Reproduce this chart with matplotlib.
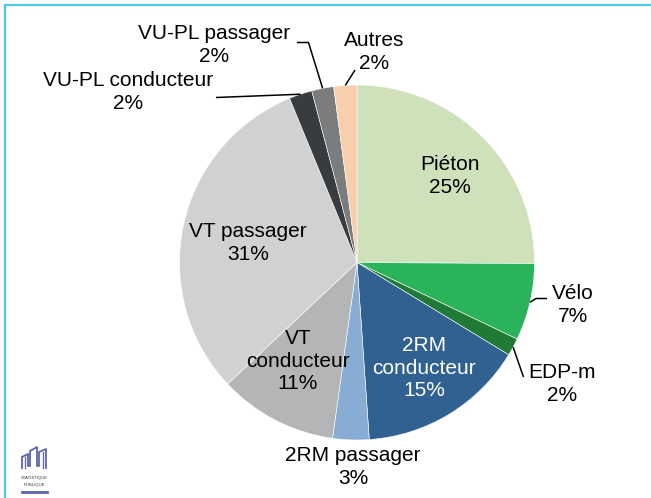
import numpy as np
import matplotlib.pyplot as plt
from matplotlib.lines import Line2D

plt.rcParams['font.family'] = ['Liberation Sans', 'DejaVu Sans']

# data
labels = ['Piéton', 'Vélo', 'EDP-m', '2RM conducteur', '2RM passager',
          'VT conducteur', 'VT passager', 'VU-PL conducteur', 'VU-PL passager', 'Autres']
shares = [25.1, 7.0, 1.6, 15.2, 3.3, 10.8, 30.8, 2.1, 2.0, 2.1]
pct_text = ['25%', '7%', '2%', '15%', '3%', '11%', '31%', '2%', '2%', '2%']
colors = ['#cfe1bb', '#2bb35c', '#1f7a35', '#316191', '#88add5',
          '#b4b5b7', '#d0d1d0', '#383c3f', '#7a7c7e', '#f8cfad']

# label text (line breaks as in the chart)
label_text = ['Piéton', 'Vélo', 'EDP-m', '2RM\nconducteur', '2RM passager',
              'VT\nconducteur', 'VT passager', 'VU-PL conducteur', 'VU-PL passager', 'Autres']
label_pos = [(450, 176), (573, 305), (562, 384), (424, 368), (353, 467),
             (298, 361), (248, 243), (128, 92), (214, 45), (374, 52)]
label_color = ['black', 'black', 'black', 'white', 'black',
               'black', 'black', 'black', 'black', 'black']
# leader line bend points (None = no leader)
leaders = {
    1: [(536, 298.5), (547, 298.5)],
    2: [(523.5, 377)],
    7: [(216, 97.5)],
    8: [(308.5, 42.5), (297, 42.5)],
    9: [(355, 70)],
}

W, H = 651, 498
fig = plt.figure(figsize=(W / 100, H / 100), dpi=100)
ax = fig.add_axes([0, 0, 1, 1])

cx, cy, r = 357, 262.5, 177.5
wedges, _ = ax.pie(shares, colors=colors, startangle=-90, counterclock=True,
                   center=(cx, cy), radius=r,
                   wedgeprops=dict(edgecolor='white', linewidth=0.4))

ax.set_xlim(0, W)
ax.set_ylim(H, 0)
ax.set_aspect('equal')
ax.axis('off')

for i, w in enumerate(wedges):
    x, y = label_pos[i]
    ax.text(x, y, label_text[i] + '\n' + pct_text[i], ha='center', va='center',
            fontsize=15, color=label_color[i], linespacing=1.22)
    if i in leaders:
        mid = np.deg2rad((w.theta1 + w.theta2) / 2)
        pts = [(cx + r * np.cos(mid), cy + r * np.sin(mid))] + leaders[i]
        xs, ys = zip(*pts)
        ax.plot(xs, ys, color='black', lw=1.1, solid_capstyle='butt')

# frame lines (top and left)
fig.add_artist(Line2D([5 / W, 1], [1 - 5 / H, 1 - 5 / H], color='#4fc8f0', lw=1.6))
fig.add_artist(Line2D([5 / W, 5 / W], [0, 1 - 5 / H], color='#4fc8f0', lw=1.6))

# logo "Statistique publique"
logo = '#5a64b4'
ax.plot([22, 22, 28, 28, 30, 30, 37, 37, 39, 39, 46, 46],
        [468, 457, 454, 466, 466, 451, 447, 466, 466, 452, 449, 468], color=logo, lw=1.3)
ax.plot([25, 25], [468, 457], color=logo, lw=0.9)
ax.plot([43, 43], [468, 452], color=logo, lw=0.9)
ax.text(34, 478, 'STATISTIQUE', ha='center', va='center', fontsize=3, color='#333333')
ax.text(34, 485, 'PUBLIQUE', ha='center', va='center', fontsize=3, color='#333333')
ax.plot([22, 47], [492, 492], color=logo, lw=2)

fig.savefig('out.png', dpi=100)
